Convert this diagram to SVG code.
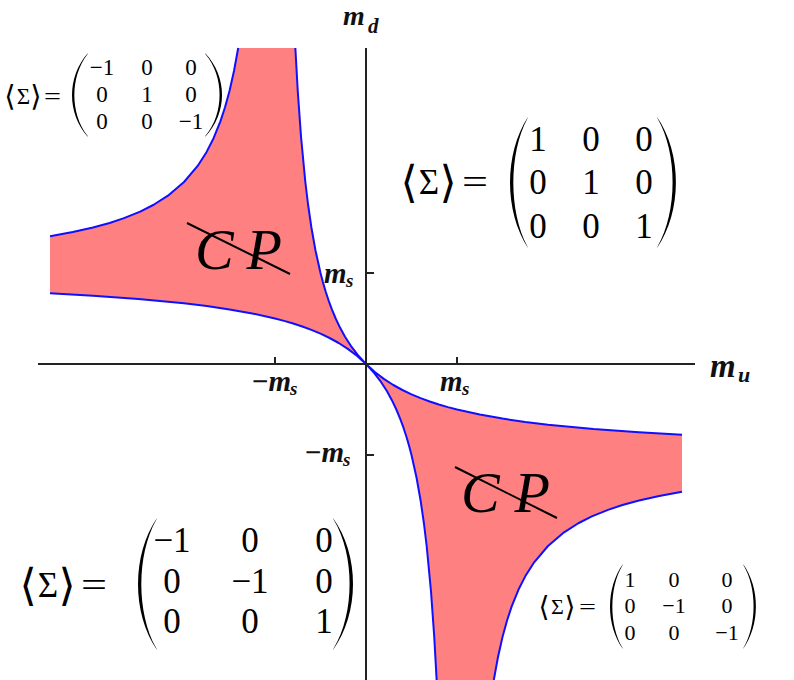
<svg xmlns="http://www.w3.org/2000/svg" width="794" height="680" viewBox="0 0 794 680">
<style>
.region{fill:#ff8080;stroke:none}
.bnd{fill:none;stroke:#1010ff;stroke-width:2;stroke-linejoin:round}
.axis{stroke:#222;stroke-width:2;fill:none}
.tick{stroke:#222;stroke-width:2}
.lab{font-family:"Liberation Serif","DejaVu Serif",serif;font-weight:bold;font-style:italic;fill:#111}
.mat text{font-family:"Liberation Serif","DejaVu Serif",serif;fill:#000;font-style:normal;font-weight:normal}
.mat text.br{font-family:"DejaVu Serif","DejaVu Sans",serif}
.paren{fill:#000;stroke:none}
.cp{font-family:"Liberation Serif","DejaVu Serif",serif;font-style:italic;fill:#000}
.strike{stroke:#000;stroke-width:2}
</style>
<rect width="794" height="680" fill="#fff"/>
<defs>
<g id="lobe">
<path class="region" d="M50,236.2 L72.78,232.05 L93,227.5 L109.55,222.95 L123.33,218.4 L140.18,211.58 L153.67,204.75 L167.94,195.65 L184,182 L197.65,165.94 L206.75,151.67 L213.58,138.18 L220.4,121.33 L224.95,107.55 L229.5,91 L234.05,70.78 L238.2,48 L295.35,48 L297.75,91 L301,136.5 L305.33,182 L308.09,204.75 L311.4,227.5 L315.44,250.25 L320.5,273 L322.89,282.1 L325.56,291.2 L328.53,300.3 L331.88,309.4 L335.67,318.5 L340,327.6 L345,336.7 L350.83,345.8 L357.73,354.9 L366,364 L356.9,355.73 L347.8,348.83 L338.7,343 L329.6,338 L320.5,333.67 L311.4,329.88 L302.3,326.53 L293.2,323.56 L284.1,320.89 L275,318.5 L252.25,313.44 L229.5,309.4 L206.75,306.09 L184,303.33 L138.5,299 L93,295.75 L50,293.35 Z"/>
<path class="bnd" d="M50,236.2 L72.78,232.05 L93,227.5 L109.55,222.95 L123.33,218.4 L140.18,211.58 L153.67,204.75 L167.94,195.65 L184,182 L197.65,165.94 L206.75,151.67 L213.58,138.18 L220.4,121.33 L224.95,107.55 L229.5,91 L234.05,70.78 L238.2,48"/>
<path class="bnd" d="M295.35,48 L297.75,91 L301,136.5 L305.33,182 L308.09,204.75 L311.4,227.5 L315.44,250.25 L320.5,273 L322.89,282.1 L325.56,291.2 L328.53,300.3 L331.88,309.4 L335.67,318.5 L340,327.6 L345,336.7 L350.83,345.8 L357.73,354.9 L366,364 L356.9,355.73 L347.8,348.83 L338.7,343 L329.6,338 L320.5,333.67 L311.4,329.88 L302.3,326.53 L293.2,323.56 L284.1,320.89 L275,318.5 L252.25,313.44 L229.5,309.4 L206.75,306.09 L184,303.33 L138.5,299 L93,295.75 L50,293.35"/>
</g>
</defs>
<g id="region-upper-left"><use href="#lobe"/></g>
<g id="region-lower-right"><use href="#lobe" transform="rotate(180 366 364)"/></g>
<g id="axes">
<line class="axis" x1="366" y1="48" x2="366" y2="680"/>
<line class="axis" x1="38" y1="364" x2="695" y2="364"/>
<line class="tick" x1="275" y1="364" x2="275" y2="357"/>
<line class="tick" x1="457" y1="364" x2="457" y2="357"/>
<line class="tick" x1="366" y1="273" x2="374" y2="273"/>
<line class="tick" x1="366" y1="455" x2="374" y2="455"/>
</g>
<g id="axis-labels">
<text class="lab" x="343" y="25" font-size="28">m</text><text class="lab" x="368" y="33" font-size="21">d</text>
<text class="lab" x="710" y="377" font-size="33">m</text><text class="lab" x="738" y="382" font-size="22">u</text>
<text class="lab" x="324" y="283" font-size="29">m</text><text class="lab" x="346" y="287" font-size="19">s</text>
<text class="lab" x="251" y="391" font-size="29">−m</text><text class="lab" x="290" y="395" font-size="19">s</text>
<text class="lab" x="440" y="391" font-size="29">m</text><text class="lab" x="462" y="395" font-size="19">s</text>
<text class="lab" x="304" y="462" font-size="29">−m</text><text class="lab" x="343" y="466" font-size="19">s</text>
</g>
<g id="cp-upper-left">
<text class="cp" x="195" y="269" font-size="58" textLength="87" lengthAdjust="spacing">CP</text>
<line class="strike" x1="187" y1="223" x2="290" y2="274"/>
</g>
<g id="cp-lower-right">
<text class="cp" x="461" y="512" font-size="58" textLength="89" lengthAdjust="spacing">CP</text>
<line class="strike" x1="455" y1="467" x2="557" y2="518"/>
</g>
<g id="matrix-upper-left" class="mat" font-family="Liberation Serif, serif" font-size="23" text-anchor="middle">
<text class="br" x="10" y="106" font-size="29">⟨</text><text x="23.5" y="104">Σ</text><text class="br" x="36" y="106" font-size="29">⟩</text><text x="44" y="104" text-anchor="start" textLength="17" lengthAdjust="spacingAndGlyphs">=</text>
<path class="paren" d="M88,53 C66.67,76.5 66.67,113.5 88,137 L87.5,135.8 C70,113.5 70,76.5 87.5,54.2 Z"/>
<path class="paren" d="M205,53 C227.67,76.5 227.67,113.5 205,137 L205.5,135.8 C224.33,113.5 224.33,76.5 205.5,54.2 Z"/>
<text x="102" y="75">−1</text><text x="147" y="75">0</text><text x="191" y="75">0</text>
<text x="102" y="102">0</text><text x="147" y="102">1</text><text x="191" y="102">0</text>
<text x="102" y="129">0</text><text x="147" y="129">0</text><text x="191" y="129">−1</text>
</g>
<g id="matrix-upper-right" class="mat" font-family="Liberation Serif, serif" font-size="35" text-anchor="middle">
<text class="br" x="409" y="197" font-size="44">⟨</text><text x="429" y="194">Σ</text><text class="br" x="448" y="197" font-size="44">⟩</text><text x="462" y="194" text-anchor="start" textLength="26" lengthAdjust="spacingAndGlyphs">=</text>
<path class="paren" d="M528,117 C504,153.7 504,211.3 528,248 L527.3,246.3 C508.67,211.3 508.67,153.7 527.3,118.7 Z"/>
<path class="paren" d="M657,117 C682.33,153.7 682.33,211.3 657,248 L657.7,246.3 C677.67,211.3 677.67,153.7 657.7,118.7 Z"/>
<text x="538" y="151">1</text><text x="591" y="151">0</text><text x="644" y="151">0</text>
<text x="538" y="194">0</text><text x="591" y="194">1</text><text x="644" y="194">0</text>
<text x="538" y="238">0</text><text x="591" y="238">0</text><text x="644" y="238">1</text>
</g>
<g id="matrix-lower-left" class="mat" font-family="Liberation Serif, serif" font-size="35" text-anchor="middle">
<text class="br" x="28" y="600" font-size="44">⟨</text><text x="48" y="597">Σ</text><text class="br" x="67" y="600" font-size="44">⟩</text><text x="81" y="597" text-anchor="start" textLength="26" lengthAdjust="spacingAndGlyphs">=</text>
<path class="paren" d="M157,518 C131.67,555 131.67,613 157,650 L156.3,648.3 C136.33,613 136.33,555 156.3,519.7 Z"/>
<path class="paren" d="M333,518 C359.67,555 359.67,613 333,650 L333.7,648.3 C355,613 355,555 333.7,519.7 Z"/>
<text x="172" y="552">−1</text><text x="250" y="552">0</text><text x="324" y="552">0</text>
<text x="172" y="593">0</text><text x="250" y="593">−1</text><text x="324" y="593">0</text>
<text x="172" y="633">0</text><text x="250" y="633">0</text><text x="324" y="633">1</text>
</g>
<g id="matrix-lower-right" class="mat" font-family="Liberation Serif, serif" font-size="22" text-anchor="middle">
<text class="br" x="544" y="616" font-size="28">⟨</text><text x="557.5" y="614">Σ</text><text class="br" x="570" y="616" font-size="28">⟩</text><text x="579" y="614" text-anchor="start" textLength="17" lengthAdjust="spacingAndGlyphs">=</text>
<path class="paren" d="M623,564 C605.67,587.8 605.67,625.2 623,649 L622.5,647.8 C609,625.2 609,587.8 622.5,565.2 Z"/>
<path class="paren" d="M743,564 C760.33,587.8 760.33,625.2 743,649 L743.5,647.8 C757,625.2 757,587.8 743.5,565.2 Z"/>
<text x="630" y="587">1</text><text x="674" y="587">0</text><text x="727" y="587">0</text>
<text x="630" y="613">0</text><text x="674" y="613">−1</text><text x="727" y="613">0</text>
<text x="630" y="640">0</text><text x="674" y="640">0</text><text x="727" y="640">−1</text>
</g>
</svg>
